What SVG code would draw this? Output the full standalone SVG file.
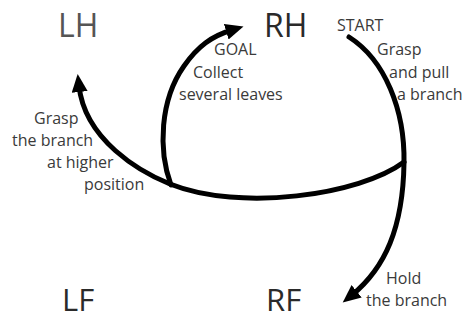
<svg xmlns="http://www.w3.org/2000/svg" width="469" height="320" viewBox="0 0 469 320">
  <style>
    .limb { font-family: "Open Sans", "Liberation Sans", sans-serif; font-size: 32px; fill: #2a2a2a; }
    .lbl { font-family: "Open Sans", "Liberation Sans", sans-serif; font-size: 16px; fill: #3a3a3a; }
    .c { fill: none; stroke: #000; stroke-width: 5; stroke-linecap: round; }
  </style>
  <defs>
    <marker id="ah" markerUnits="userSpaceOnUse" markerWidth="20" markerHeight="18" refX="6" refY="8" orient="auto">
      <path d="M0,0 L18,8 L0,16 Z" fill="#000"/>
    </marker>
  </defs>
  <rect width="469" height="320" fill="#fff"/>
  <g id="LH"><text class="limb" x="58" y="37" style="fill:#555">LH</text></g>
  <g id="RH"><text class="limb" x="264" y="37">RH</text></g>
  <g id="LF"><text class="limb" x="62" y="311" style="font-size:31px">LF</text></g>
  <g id="RF"><text class="limb" x="266" y="311" style="font-size:31px">RF</text></g>
  <g id="connectors">
    <path class="c" d="M349,37 C385,60 405,110 404,163 C403,228 385,268 352,295" marker-end="url(#ah)"/>
    <path class="c" d="M404,162 C360,195 240,212 170,184 C140,172 85,140 79,86" marker-end="url(#ah)"/>
    <path class="c" d="M171,185 C158,150 160,100 184,66 C198,46 212,36 232,30" marker-end="url(#ah)"/>
  </g>
  <g id="labels">
    <text class="lbl" x="337" y="31" font-size="14.5">START</text>
    <text class="lbl" x="377" y="55">Grasp</text>
    <text class="lbl" x="389" y="78">and pull</text>
    <text class="lbl" x="397" y="100">a branch</text>
    <text class="lbl" x="214" y="55" font-size="15">GOAL</text>
    <text class="lbl" x="193" y="78">Collect</text>
    <text class="lbl" x="179" y="100">several leaves</text>
    <text class="lbl" x="34" y="124">Grasp</text>
    <text class="lbl" x="12" y="146">the branch</text>
    <text class="lbl" x="47" y="168">at higher</text>
    <text class="lbl" x="84" y="190">position</text>
    <text class="lbl" x="386" y="284">Hold</text>
    <text class="lbl" x="366" y="306">the branch</text>
  </g>
</svg>
